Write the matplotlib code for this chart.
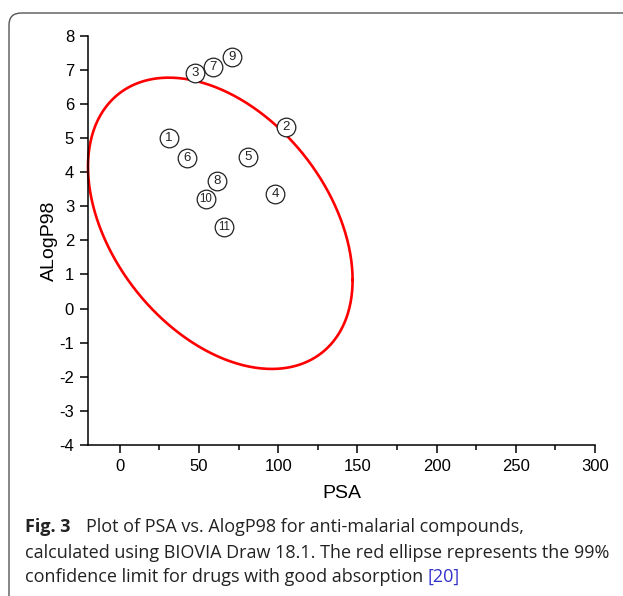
"""PSA vs AlogP98 scatter with Egan-style confidence ellipse"""
import numpy as np
import matplotlib
matplotlib.use('Agg')
import matplotlib.pyplot as plt
from matplotlib.patches import FancyBboxPatch

plt.rcParams['axes.unicode_minus'] = False

# Compound data
labels = ['1', '2', '3', '4', '5', '6', '7', '8', '9', '10', '11']
psa = [31.2, 104.7, 47.8, 98.3, 81.1, 42.8, 59.2, 61.5, 70.8, 54.5, 65.9]
alogp = [5.01, 5.33, 6.92, 3.36, 4.45, 4.40, 7.07, 3.74, 7.37, 3.22, 2.40]

# 99% confidence ellipse: centre, half-extents and phase between x and y
ell_center = (63.5, 2.5)
ell_half = (83.5, 4.27)
ell_phase = 1.97

xticks = [0, 50, 100, 150, 200, 250, 300]
yticks = list(range(-4, 9))

fig = plt.figure(figsize=(6.23, 5.96), dpi=100)

# rounded frame around the figure panel
frame = FancyBboxPatch((9 / 623, -0.2), 1.2, (596 - 13) / 596 + 0.2,
                       boxstyle='round,pad=0,rounding_size=0.02',
                       transform=fig.transFigure, facecolor='none',
                       edgecolor='#555555', linewidth=1.0)
fig.patches.append(frame)

ax = fig.add_axes([88 / 623, (596 - 445) / 596, 507 / 623, 409.3 / 596])

t = np.linspace(0, 2 * np.pi, 400)
ex = ell_center[0] + ell_half[0] * np.cos(t)
ey = ell_center[1] + ell_half[1] * np.cos(t - ell_phase)
ax.plot(ex, ey, color='#ff0000', linewidth=1.9, clip_on=False)

ax.scatter(psa, alogp, s=180, facecolors='white', edgecolors='#222222',
           linewidths=0.9, zorder=3, clip_on=False)
for lab, x, y in zip(labels, psa, alogp):
    ax.text(x, y, lab, ha='center', va='center', fontsize=9.5 if len(lab) == 1 else 8.3,
            family='Liberation Sans', color='#222222', zorder=4)

ax.set_xlim(-20, 300)
ax.set_ylim(-4, 8)
ax.set_xticks(xticks)
ax.set_xticks(np.arange(25, 300, 50), minor=True)
ax.set_yticks(yticks)
ax.spines['top'].set_visible(False)
ax.spines['right'].set_visible(False)
for sp in ('left', 'bottom'):
    ax.spines[sp].set_linewidth(1.1)
ax.tick_params(axis='both', which='major', direction='out', length=6,
               width=1.1, labelsize=12, pad=4)
ax.tick_params(axis='x', which='minor', direction='out', length=3.5, width=1.1)
for lbl in ax.get_xticklabels() + ax.get_yticklabels():
    lbl.set_family('Liberation Sans')

ax.set_xlabel('PSA', fontsize=14, family='Liberation Sans', labelpad=8)
ax.set_ylabel('ALogP98', fontsize=14, family='Liberation Sans', labelpad=1)

# caption
cap_font = dict(family='Open Sans', fontsize=13, color='#222222')
fig.text(25 / 623, 1 - 527 / 596, 'Fig. 3', fontweight='bold', va='center', **cap_font)
fig.text(86 / 623, 1 - 527 / 596, 'Plot of PSA vs. AlogP98 for anti-malarial compounds,',
         va='center', **cap_font)
fig.text(25 / 623, 1 - 553 / 596,
         'calculated using BIOVIA Draw 18.1. The red ellipse represents the 99%',
         va='center', **cap_font)
t3 = fig.text(25 / 623, 1 - 577 / 596, 'confidence limit for drugs with good absorption ',
              va='center', **cap_font)
fig.canvas.draw()
bb = t3.get_window_extent()
fig.text(bb.x1 / fig.bbox.width, 1 - 577 / 596, '[20]', va='center',
         family='Open Sans', fontsize=13, color='#3333cc')

fig.savefig('out.png', dpi=100)
